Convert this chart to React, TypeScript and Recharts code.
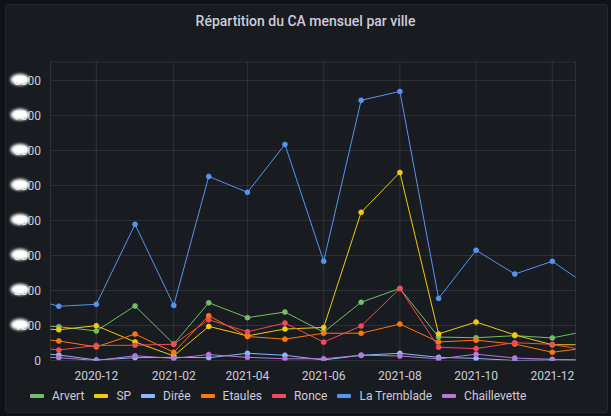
import React from 'react';
import { LineChart, Line, XAxis, YAxis, CartesianGrid } from 'recharts';

// monthly points, Oct 2020 -> Jan 2022 (first and last fall outside the visible range)
const months = [
  '2020-10', '2020-11', '2020-12', '2021-01', '2021-02', '2021-03', '2021-04', '2021-05',
  '2021-06', '2021-07', '2021-08', '2021-09', '2021-10', '2021-11', '2021-12', '2022-01',
];

const arvert = [1020, 965, 845, 1560, 470, 1650, 1225, 1385, 810, 1665, 2060, 670, 650, 710, 645, 865];
const sp = [935, 880, 995, 530, 130, 975, 705, 900, 945, 4235, 5375, 760, 1100, 730, 450, 450];
const diree = [245, 157, 15, 80, 90, 80, 205, 150, 15, 150, 205, 90, 60, 0, 15, 15];
const etaules = [650, 557, 390, 755, 235, 1280, 685, 610, 780, 780, 1040, 530, 580, 470, 235, 375];
const ronce = [435, 300, 430, 437, 465, 1165, 820, 1070, 525, 985, 2055, 380, 340, 510, 460, 270];
const laTremblade = [1855, 1550, 1605, 3890, 1575, 5260, 4805, 6175, 2835, 7435, 7690, 1775, 3150, 2470, 2835, 2070];
const chaillevette = [125, 80, 0, 137, 60, 170, 90, 50, 50, 150, 130, 45, 180, 70, 35, 0];

const xTicks = ['2020-12', '2021-02', '2021-04', '2021-06', '2021-08', '2021-10', '2021-12'];
const yTicks = [0, 1000, 2000, 3000, 4000, 5000, 6000, 7000, 8000];

const toTs = (m: string) => {
  const [y, mo] = m.split('-').map(Number);
  return Date.UTC(y, mo - 1, 1);
};

const series = [
  { key: 'Arvert', values: arvert, color: '#73BF69' },
  { key: 'SP', values: sp, color: '#F2CC0C' },
  { key: 'Dirée', values: diree, color: '#8AB8FF' },
  { key: 'Etaules', values: etaules, color: '#FF780A' },
  { key: 'Ronce', values: ronce, color: '#F2495C' },
  { key: 'La Tremblade', values: laTremblade, color: '#5794F2' },
  { key: 'Chaillevette', values: chaillevette, color: '#B877D9' },
];

const data = months.map((m, i) => {
  const row: Record<string, number> = { t: toTs(m) };
  series.forEach((s) => { row[s.key] = s.values[i]; });
  return row;
});

// visible time range (roughly "last 420 days")
const xDomain = [Date.UTC(2020, 9, 25, 8), Date.UTC(2021, 11, 19, 14)];

const fmtMonth = (v: number) => {
  const d = new Date(v);
  return `${d.getUTCFullYear()}-${String(d.getUTCMonth() + 1).padStart(2, '0')}`;
};

const textColor = '#ccccdc';

function XTick({ x, y, payload }: any) {
  return (
    <text x={x} y={y + 19} textAnchor="middle" fill={textColor} fontSize={12} fontFamily="Roboto, sans-serif">
      {fmtMonth(payload.value)}
    </text>
  );
}

function YTick({ y, payload }: any) {
  return (
    <g>
      <text x={41} y={y + 4} textAnchor="end" fill={textColor} fontSize={12} fontFamily="Roboto, sans-serif">
        {payload.value}
      </text>
      {payload.value !== 0 && (
        <ellipse cx={20} cy={y - 1} rx={9.5} ry={5.8} fill="#ffffff" style={{ filter: 'blur(1.8px)' }} />
      )}
    </g>
  );
}

export default function App() {
  return (
    <div style={{ position: 'absolute', left: 0, top: 0, width: 611, height: 416, background: '#111217', fontFamily: 'Roboto, sans-serif', overflow: 'hidden' }}>
      <div style={{ position: 'absolute', left: 5, top: 4, width: 603, height: 409, boxSizing: 'border-box', background: '#181b1f', border: '1px solid #25272c', borderRadius: 3 }} />
      <div style={{ position: 'absolute', left: 0, top: 12, width: 611, textAlign: 'center', fontSize: 14, fontWeight: 500, lineHeight: '18px', color: textColor }}>
        Répartition du CA mensuel par ville
      </div>
      <div style={{ position: 'absolute', left: 0, top: 0 }}>
        <LineChart width={611} height={416} data={data} margin={{ top: 62, right: 35.5, bottom: 25.5, left: 0.5 }}>
          <CartesianGrid stroke="rgba(204,204,220,0.12)" />
          <XAxis
            dataKey="t"
            type="number"
            domain={xDomain}
            allowDataOverflow
            ticks={xTicks.map(toTs)}
            interval={0}
            tick={<XTick />}
            tickLine={false}
            axisLine={false}
            tickSize={0}
            tickMargin={0}
            height={30}
          />
          <YAxis
            type="number"
            domain={[0, 8530]}
            allowDataOverflow
            ticks={yTicks}
            interval={0}
            tick={<YTick />}
            tickLine={false}
            axisLine={false}
            tickSize={0}
            tickMargin={0}
            width={50}
          />
          {series.map((s) => (
            <Line
              key={s.key}
              dataKey={s.key}
              stroke={s.color}
              strokeWidth={1}
              dot={{ r: 2.5, fill: s.color, stroke: s.color, strokeWidth: 0.6 }}
              activeDot={false}
              isAnimationActive={false}
            />
          ))}
        </LineChart>
      </div>
      <div style={{ position: 'absolute', left: 30, top: 388, height: 16, display: 'flex', alignItems: 'center', fontSize: 12, color: textColor }}>
        {series.map((s) => (
          <div key={s.key} style={{ display: 'flex', alignItems: 'center', marginRight: 10 }}>
            <span style={{ width: 14, height: 3.5, background: s.color, borderRadius: 1, marginRight: 8 }} />
            <span>{s.key}</span>
          </div>
        ))}
      </div>
    </div>
  );
}
